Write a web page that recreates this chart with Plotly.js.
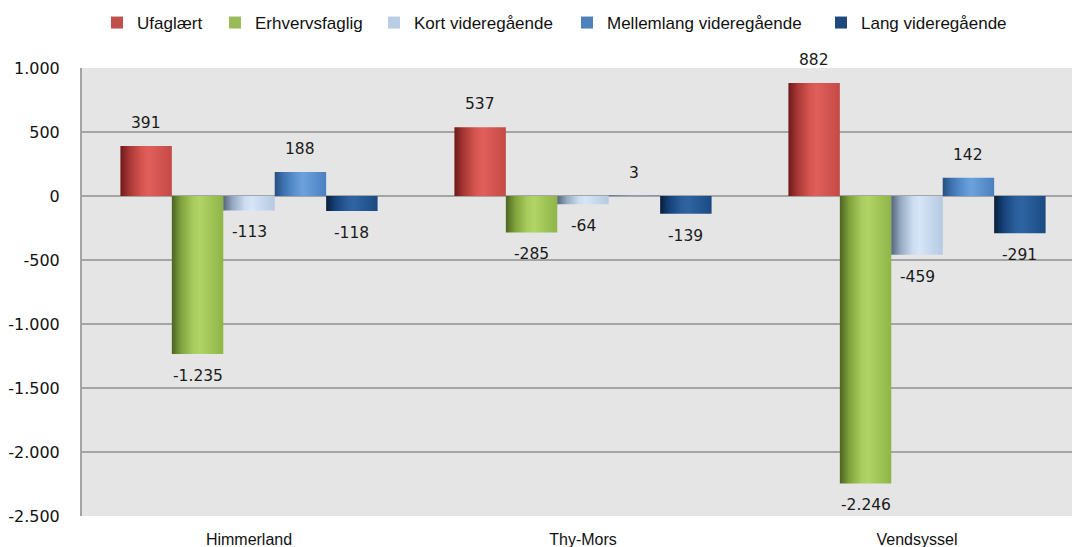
<!DOCTYPE html>
<html>
<head>
<meta charset="utf-8">
<script src="https://cdn.plot.ly/plotly-3.0.1.min.js"></script>
<style>
html,body{margin:0;padding:0;background:#fff;overflow:hidden;width:1072px;height:547px;}
#chart{width:1086px;height:547px;}
</style>
</head>
<body>
<div id="chart"></div>
<script>
const regions = ["Himmerland", "Thy-Mors", "Vendsyssel"];
const seriesNames = ["Ufaglært", "Erhvervsfaglig", "Kort videregående", "Mellemlang videregående", "Lang videregående"];
const ufaglaert = [391, 537, 882];
const erhvervsfaglig = [-1235, -285, -2246];
const kortVideregaaende = [-113, -64, -459];
const mellemlangVideregaaende = [188, 3, 142];
const langVideregaaende = [-118, -139, -291];
const yTicks = [1000, 500, 0, -500, -1000, -1500, -2000, -2500];

const seriesValues = [ufaglaert, erhvervsfaglig, kortVideregaaende, mellemlangVideregaaende, langVideregaaende];
const legendColors = ["#c0504d", "#9bbb59", "#b9cde5", "#4f81bd", "#1f497d"];
const gradStops = [
  ["#6e1a18", "#a83835", "#d85652", "#e15f5b", "#c44a46"],
  ["#4b6321", "#7fa23c", "#a8cd5e", "#b0d466", "#8fb447"],
  ["#56667a", "#94a9c2", "#cbdcf0", "#d6e6f8", "#b5c9e1"],
  ["#264f80", "#3f74b2", "#5d95d3", "#6ca2dc", "#4a80c0"],
  ["#081f3d", "#154278", "#2b5f9c", "#2e64a2", "#1b4a82"]
];
const legendSymbolLeft = [113, 231, 390, 583, 837];

function fmt(v){
  const s = Math.abs(v).toString().replace(/\B(?=(\d{3})+(?!\d))/g, ".");
  return (v < 0 ? "-" : "") + s;
}

const W = 1086, H = 547;
const bargap = 0.23;
const nSeries = seriesNames.length;
const barW = (1 - bargap) / nSeries;

const axisFont = {family: "Liberation Sans, Arial, sans-serif", size: 16, color: "#111"};
const legendFont = {family: "Liberation Sans, Arial, sans-serif", size: 17, color: "#111"};

const traces = seriesNames.map((name, i) => ({
  type: "bar",
  name: name,
  x: regions,
  y: seriesValues[i],
  legend: i === 0 ? "legend" : "legend" + (i + 1),
  marker: {color: legendColors[i], line: {width: 0}},
  hoverinfo: "skip"
}));

const annotations = [];
seriesValues.forEach((vals, i) => {
  vals.forEach((v, j) => {
    annotations.push({
      xref: "x", yref: "y",
      x: j + (i - (nSeries - 1) / 2) * barW,
      y: v,
      text: fmt(v),
      showarrow: false,
      xanchor: "center",
      yanchor: v >= 0 ? "bottom" : "top",
      yshift: v >= 0 ? 12 : -11,
      font: {family: "DejaVu Sans, Verdana, sans-serif", size: 15.5, color: "#1a1a1a"}
    });
  });
});

const layout = {
  width: W,
  height: H,
  margin: {l: 82, r: 2, t: 68, b: 31},
  paper_bgcolor: "#ffffff",
  plot_bgcolor: "#e5e5e5",
  barmode: "group",
  bargap: bargap,
  bargroupgap: 0,
  showlegend: true,
  annotations: annotations,
  xaxis: {
    type: "category",
    range: [-0.5, 2.5],
    showgrid: false,
    zeroline: false,
    showline: false,
    ticks: "",
    tickfont: axisFont,
    ticklabelstandoff: 12
  },
  yaxis: {
    range: [-2500, 1000],
    tickvals: yTicks,
    ticktext: yTicks.map(fmt),
    showgrid: true,
    gridcolor: "#a4a4a4",
    gridwidth: 2,
    zeroline: true,
    zerolinecolor: "#a4a4a4",
    zerolinewidth: 2,
    showline: true,
    linecolor: "#a4a4a4",
    linewidth: 2,
    ticks: "",
    ticklabelstandoff: 17,
    tickfont: {family: "DejaVu Sans, Verdana, sans-serif", size: 16, color: "#111"}
  }
};

seriesNames.forEach((name, i) => {
  const key = i === 0 ? "legend" : "legend" + (i + 1);
  layout[key] = {
    orientation: "h",
    xref: "container", yref: "container",
    x: (legendSymbolLeft[i] - 16) / W, xanchor: "left",
    y: 1 - 23 / H, yanchor: "middle",
    font: legendFont,
    bgcolor: "rgba(0,0,0,0)",
    itemclick: false, itemdoubleclick: false
  };
});

const gd = document.getElementById("chart");
Plotly.newPlot(gd, traces, layout, {displayModeBar: false, staticPlot: true}).then(() => {
  const svgNS = "http://www.w3.org/2000/svg";
  const svg = gd.querySelector("svg.main-svg");
  let defs = svg.querySelector("defs");
  if (!defs) { defs = document.createElementNS(svgNS, "defs"); svg.insertBefore(defs, svg.firstChild); }
  const offs = [0, 0.18, 0.42, 0.55, 1];
  gradStops.forEach((stops, i) => {
    const g = document.createElementNS(svgNS, "linearGradient");
    g.setAttribute("id", "barGrad" + i);
    g.setAttribute("x1", "0"); g.setAttribute("y1", "0");
    g.setAttribute("x2", "1"); g.setAttribute("y2", "0");
    stops.forEach((c, k) => {
      const s = document.createElementNS(svgNS, "stop");
      s.setAttribute("offset", offs[k]);
      s.setAttribute("stop-color", c);
      g.appendChild(s);
    });
    defs.appendChild(g);
  });
  const traceGroups = gd.querySelectorAll(".barlayer .trace");
  traceGroups.forEach((tg, i) => {
    tg.querySelectorAll("path").forEach(p => { p.style.fill = "url(#barGrad" + i + ")"; });
  });
});
</script>
</body>
</html>
